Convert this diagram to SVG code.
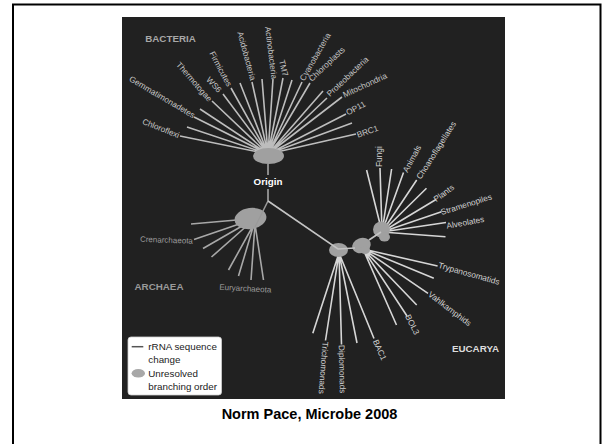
<svg xmlns="http://www.w3.org/2000/svg" width="602" height="444" viewBox="0 0 602 444">
<style>
.lbl{font-family:"Liberation Sans",Arial,sans-serif;font-size:8.3px;fill:#c6c6c6}
.albl{font-family:"Liberation Sans",Arial,sans-serif;font-size:8px;fill:#9c9c9c}
.elbl{font-family:"Liberation Sans",Arial,sans-serif;font-size:8.3px;fill:#d2d2d2}
.dom{font-family:"Liberation Sans",Arial,sans-serif;font-size:9.8px;font-weight:bold}
.leg{font-family:"Liberation Sans",Arial,sans-serif;font-size:9.8px;fill:#222}
.bl{stroke:#bdbdbd;stroke-width:1.6;fill:none}
.al{stroke:#a8a8a8;stroke-width:1.6;fill:none}
.el{stroke:#d6d6d6;stroke-width:1.6;fill:none}
.blob{fill:#a0a0a0}
</style>
<rect x="0" y="0" width="602" height="444" fill="#ffffff"/>
<rect x="13" y="4.5" width="587.5" height="460" fill="none" stroke="#000" stroke-width="2"/>
<rect x="122" y="17" width="383" height="382" fill="#212121"/>

<g id="connectors">
  <g class="bl">
    <path d="M268 154L180 136M268 154L187 127M268 154L194 117M268 154L200 109M268 154L212 101M268 154L223 94M268 154L231 88M268 154L240 83M268 154L252 82M268 154L262 79M268 154L273 79M268 154L283 78M268 154L292 80M268 154L302 82M268 154L310 83M268 154L323 91M268 154L327 98M268 154L342 97M268 154L346 114M268 154L352 123M268 154L356 134"/>
  </g>
  <g class="al">
    <path d="M248 219L191 224M248 221L194 239.5M249 222L203 248.5M250 223L211.5 257M254 224L228.5 270M254 224L238.5 276M255 224L251 280M255 224L263.5 280"/>
  </g>
  <g class="el">
    <path d="M382 232L366.6 170M382 232L380 168M382 232L391.6 169M382 232L403.5 172.5M382 232L416.7 180M382 232L426.5 188.3M382 232L436 199.5M382 232L441.5 211.7M382 232L446 222.5M382 232L445.5 236.7"/>
    <path d="M363 249L437.6 266M363 249L433.8 278.3M363 249L428 293.3M363 249L416.7 305M363 249L407 316M363 249L396.5 325"/>
    <path d="M339 253L312.8 333.3M339 253L325.5 340.5M339 253L341.5 344.5M339 253L357 343M339 253L374 338.5"/>
  </g>
</g>

<g id="node-bacteria-blob"><ellipse class="blob" cx="268.5" cy="156" rx="15.5" ry="8"/></g>
<g id="node-archaea-blob"><ellipse class="blob" cx="250.5" cy="218.5" rx="16" ry="10.5" transform="rotate(-8 250.5 218.5)"/></g>
<g id="node-eukarya-blob1"><ellipse class="blob" cx="338.5" cy="250" rx="9.5" ry="7"/></g>
<g id="node-eukarya-blob2"><ellipse class="blob" cx="361.5" cy="245.5" rx="9.5" ry="7.5" transform="rotate(-20 361.5 245.5)"/><ellipse class="blob" cx="365" cy="250" rx="5" ry="4"/></g>
<g id="node-eukarya-blob3"><ellipse class="blob" cx="381.5" cy="229.5" rx="8.5" ry="8"/><ellipse class="blob" cx="384.5" cy="237" rx="5.5" ry="4.5"/></g>

<g id="trunk">
  <path d="M268 164L268 175M268 189L268 201" stroke="#8a8a8a" stroke-width="2" fill="none"/>
  <path d="M268 201L255 227" stroke="#9a9a9a" stroke-width="1.6" fill="none"/>
  <path d="M268 201L338 249L355 248M369 240L381 232" stroke="#c4c4c4" stroke-width="1.6" fill="none"/>
</g>

<g id="node-origin"><text class="dom" x="268" y="182" dy="0.35em" text-anchor="middle" fill="#ffffff">Origin</text></g>
<g id="node-bacteria"><text class="dom" x="170.5" y="39" dy="0.35em" text-anchor="middle" fill="#a8a8a8">BACTERIA</text></g>
<g id="node-archaea"><text class="dom" x="159" y="287" dy="0.35em" text-anchor="middle" fill="#9a9a9a">ARCHAEA</text></g>
<g id="node-eucarya"><text class="dom" x="475.5" y="348.5" dy="0.35em" text-anchor="middle" fill="#dddddd">EUCARYA</text></g>

<g id="bacteria-leaves">
  <g id="node-chloroflexi"><text class="lbl" dy="0.35em" transform="translate(142.7 121) rotate(21.6)">Chloroflexi</text></g>
  <g id="node-gemmatimonadetes"><text class="lbl" dy="0.35em" transform="translate(130 78) rotate(30.5)">Gemmatimonadetes</text></g>
  <g id="node-thermotogae"><text class="lbl" dy="0.35em" transform="translate(178 63) rotate(49)">Thermotogae</text></g>
  <g id="node-ws6"><text class="lbl" dy="0.35em" transform="translate(208 78) rotate(47.6)">WS6</text></g>
  <g id="node-firmicutes"><text class="lbl" dy="0.35em" transform="translate(211.7 52) rotate(62)">Firmicutes</text></g>
  <g id="node-acidobacteria"><text class="lbl" dy="0.35em" transform="translate(240 31.7) rotate(74.6)">Acidobacteria</text></g>
  <g id="node-actinobacteria"><text class="lbl" dy="0.35em" transform="translate(268 26.7) rotate(83)">Actinobacteria</text></g>
  <g id="node-tm7"><text class="lbl" dy="0.35em" transform="translate(281.7 60) rotate(76)">TM7</text></g>
  <g id="node-cyanobacteria"><text class="lbl" dy="0.35em" transform="translate(301.7 80) rotate(-60)">Cyanobacteria</text></g>
  <g id="node-chloroplasts"><text class="lbl" dy="0.35em" transform="translate(310 80) rotate(-43.6)">Chloroplasts</text></g>
  <g id="node-proteobacteria"><text class="lbl" dy="0.35em" transform="translate(328 95) rotate(-43.5)">Proteobacteria</text></g>
  <g id="node-mitochondria"><text class="lbl" dy="0.35em" transform="translate(343.3 95) rotate(-24.7)">Mitochondria</text></g>
  <g id="node-op11"><text class="lbl" dy="0.35em" transform="translate(346.7 113) rotate(-28.6)">OP11</text></g>
  <g id="node-brc1"><text class="lbl" dy="0.35em" transform="translate(357 135) rotate(-19.3)">BRC1</text></g>
</g>

<g id="archaea-leaves">
  <g id="node-crenarchaeota"><text class="albl" dy="0.35em" transform="translate(140 239) rotate(1.9)">Crenarchaeota</text></g>
  <g id="node-euryarchaeota"><text class="albl" dy="0.35em" transform="translate(219.3 287) rotate(3)">Euryarchaeota</text></g>
</g>

<g id="eukarya-leaves">
  <g id="node-fungi"><text class="elbl" dy="0.35em" transform="translate(379.5 167) rotate(-90)">Fungi</text></g>
  <g id="node-animals"><text class="elbl" dy="0.35em" transform="translate(405 171.7) rotate(-61.8)">Animals</text></g>
  <g id="node-choanoflagellates"><text class="elbl" dy="0.35em" transform="translate(418.4 178.3) rotate(-57.6)">Choanoflagellates</text></g>
  <g id="node-plants"><text class="elbl" dy="0.35em" transform="translate(434.5 200) rotate(-36.7)">Plants</text></g>
  <g id="node-stramenopiles"><text class="elbl" dy="0.35em" transform="translate(441 212.3) rotate(-17.4)">Stramenopiles</text></g>
  <g id="node-alveolates"><text class="elbl" dy="0.35em" transform="translate(446.5 226) rotate(-10.7)">Alveolates</text></g>
  <g id="node-trypanosomatids"><text class="elbl" dy="0.35em" transform="translate(438.5 265) rotate(15.6)">Trypanosomatids</text></g>
  <g id="node-vahlkamphids"><text class="elbl" dy="0.35em" transform="translate(429.2 293.3) rotate(36.9)">Vahlkamphids</text></g>
  <g id="node-bol3"><text class="elbl" dy="0.35em" transform="translate(407.7 315) rotate(63.4)">BOL3</text></g>
  <g id="node-bac1"><text class="elbl" dy="0.35em" transform="translate(375.4 340) rotate(66)">BAC1</text></g>
  <g id="node-trichomonads"><text class="elbl" dy="0.35em" transform="translate(325.5 341.7) rotate(94.3)">Trichomonads</text></g>
  <g id="node-diplomonads"><text class="elbl" dy="0.35em" transform="translate(341.6 345) rotate(88.5)">Diplomonads</text></g>
</g>

<g id="legend">
  <rect x="128" y="337" width="93.5" height="58" rx="3" fill="#ffffff" stroke="#d0d0d0" stroke-width="0.8"/>
  <line x1="131.7" y1="346.7" x2="143.3" y2="346.7" stroke="#555" stroke-width="1.5"/>
  <text class="leg" x="148.3" y="350.2">rRNA sequence</text>
  <text class="leg" x="148.3" y="362.5">change</text>
  <ellipse cx="138.3" cy="373.3" rx="6.7" ry="4.3" fill="#a8a8a8"/>
  <text class="leg" x="148.3" y="377">Unresolved</text>
  <text class="leg" x="148.3" y="389.5">branching order</text>
</g>

<g id="caption"><text x="309.5" y="419" text-anchor="middle" style="font-family:'Liberation Sans',Arial,sans-serif;font-size:14.5px;font-weight:bold;fill:#000">Norm Pace, Microbe 2008</text></g>
</svg>
